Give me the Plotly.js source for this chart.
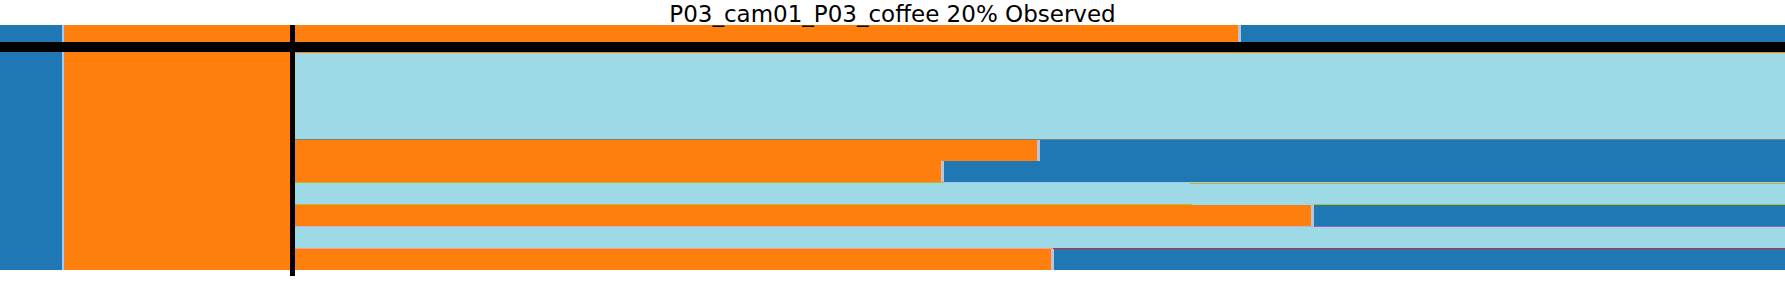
<!DOCTYPE html>
<html>
<head>
<meta charset="utf-8">
<script src="https://cdn.plot.ly/plotly-3.0.1.min.js"></script>
<style>html,body{margin:0;padding:0;background:#fff;}#chart{width:1785px;height:285px;}</style>
</head>
<body>
<div id="chart"></div>
<script>
// ---- data ----
const title = "P03_cam01_P03_coffee 20% Observed";
const totalFrames = 1785;
const observedFrame = 292.5;

const classNames = ["SIL", "take_cup", "pour_coffee", "pour_milk", "stir_coffee", "spoon_sugar", "pour_sugar", "stir_milk", "add_teabag", "pour_water", "boundary"];
const classColors = ["#1f77b4", "#ff7f0e", "#9edae5", "#7f7f7f", "#bcbd22", "#dbdb8d", "#c5b0d5", "#9467bd", "#ff9896", "#d62728", "#aec7e8"];

// Ground truth segments: breakpoints and labels
const gtBreaks = [0, 62, 64, 1238, 1241, 1785];
const gtLabels = ["SIL", "boundary", "take_cup", "boundary", "SIL"];

// Observed part shown under prediction rows
const obsBreaks = [0, 62, 64, 292.5];
const obsLabels = ["SIL", "boundary", "take_cup"];

// Prediction samples (top, bottom of each row; breakpoints; labels)
const predRowTop    = [52, 53, 139, 140, 161, 182, 183, 184, 204, 205, 226, 227, 248, 249];
const predRowBottom = [53, 139, 140, 161, 182, 183, 184, 204, 205, 226, 227, 248, 249, 270];
const predBreaks = [
  [292.5, 1785],
  [292.5, 1785],
  [292.5, 1785],
  [292.5, 1037, 1040, 1785],
  [292.5, 941, 944, 1785],
  [292.5, 944, 1785],
  [292.5, 1190, 1785],
  [292.5, 1785],
  [292.5, 1192, 1313, 1785],
  [292.5, 1311, 1314, 1785],
  [292.5, 1314, 1785],
  [292.5, 1785],
  [292.5, 1053, 1785],
  [292.5, 1051, 1054, 1785]
];
const predLabels = [
  ["take_cup"],
  ["pour_coffee"],
  ["pour_milk"],
  ["take_cup", "boundary", "SIL"],
  ["take_cup", "boundary", "SIL"],
  ["stir_coffee", "boundary"],
  ["pour_coffee", "stir_coffee"],
  ["pour_coffee"],
  ["stir_coffee", "pour_coffee", "stir_coffee"],
  ["take_cup", "boundary", "SIL"],
  ["pour_sugar", "stir_milk"],
  ["pour_coffee"],
  ["add_teabag", "pour_water"],
  ["take_cup", "boundary", "SIL"]
];

// ---- build bars ----
const groups = {};
classNames.forEach((c, i) => groups[c] = {y: [], x: [], base: [], width: [], color: classColors[i]});
function addRow(top, bottom, breaks, labels) {
  for (let i = 0; i < labels.length; i++) {
    const g = groups[labels[i]];
    g.y.push((top + bottom) / 2);
    g.width.push(bottom - top);
    g.base.push(breaks[i]);
    g.x.push(breaks[i + 1] - breaks[i]);
  }
}
addRow(25, 42, gtBreaks, gtLabels);
addRow(52, 270, obsBreaks, obsLabels);
predRowTop.forEach((t, i) => addRow(t, predRowBottom[i], predBreaks[i], predLabels[i]));

const traces = classNames.map(c => ({
  type: "bar", orientation: "h", name: c,
  y: groups[c].y, x: groups[c].x, base: groups[c].base, width: groups[c].width,
  marker: {color: groups[c].color, line: {width: 0}}, hoverinfo: "skip"
}));

// separator between ground truth and predictions, and observation marker
traces.push({
  type: "bar", orientation: "h", name: "divider",
  y: [47, (25 + 276) / 2], width: [10, 251],
  base: [0, observedFrame - 2.5], x: [totalFrames, 5],
  marker: {color: "#000000", line: {width: 0}}, hoverinfo: "skip"
});

const layout = {
  width: 1785, height: 285,
  margin: {l: 0, r: 0, t: 0, b: 0, pad: 0},
  paper_bgcolor: "#ffffff", plot_bgcolor: "#ffffff",
  showlegend: false, barmode: "overlay",
  title: {text: title, x: 0.5, xanchor: "center", y: 1 - 13.5 / 285, yanchor: "middle",
          font: {family: "DejaVu Sans", size: 23, color: "#000000"}},
  xaxis: {range: [0, totalFrames], visible: false, fixedrange: true},
  yaxis: {range: [285, 0], visible: false, fixedrange: true}
};
Plotly.newPlot("chart", traces, layout, {staticPlot: true, displayModeBar: false});
</script>
</body>
</html>
